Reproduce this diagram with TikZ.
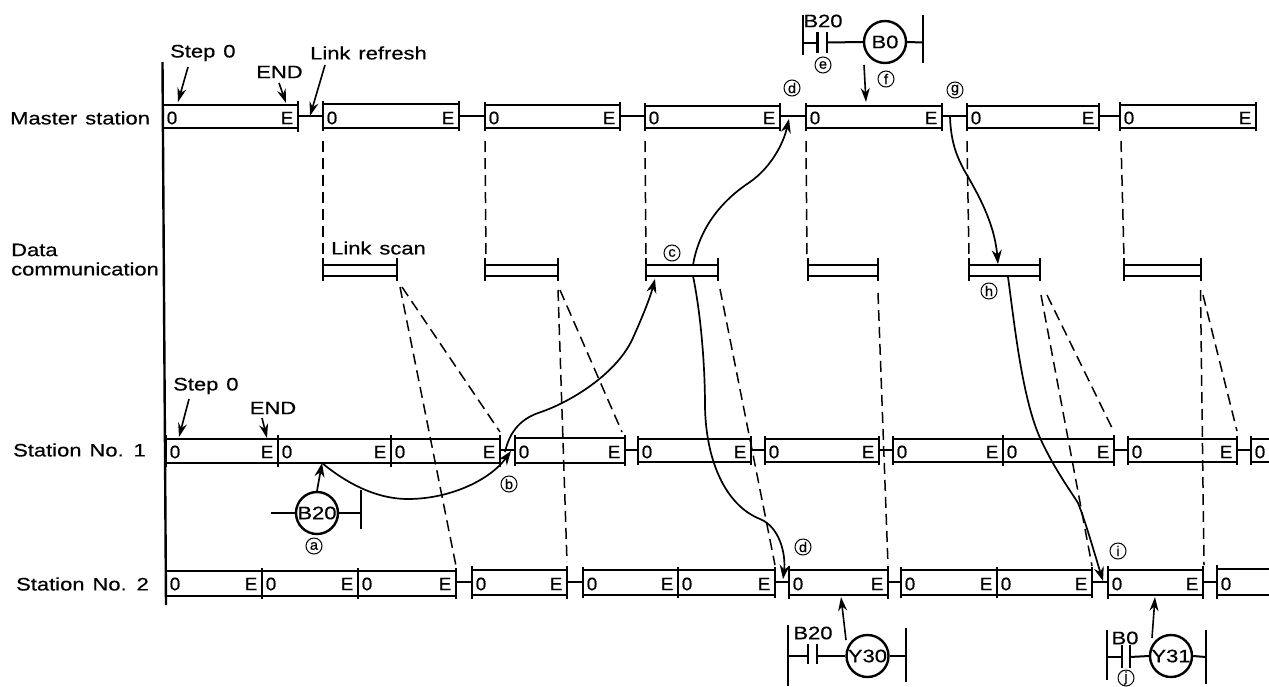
\documentclass[tikz,border=0pt]{standalone}
\usepackage{fontspec}
\setmainfont[FakeStretch=1.22,FakeBold=0.5,WordSpace=1.3]{Liberation Sans}
\newfontfamily\cellfont[FakeStretch=1.05,FakeBold=0.5]{Liberation Sans}
\usetikzlibrary{arrows.meta}
\tikzset{
  lbl/.style={inner sep=0pt,font=\fontsize{18}{20}\selectfont},
  cell/.style={inner sep=0pt,font=\cellfont\fontsize{18}{20}\selectfont},
  ltr/.style={draw,circle,line width=1pt,minimum size=16pt,inner sep=0pt,font=\cellfont\fontsize{14}{15}\selectfont},
  coil/.style={draw,circle,line width=2.4pt,minimum size=42pt,inner sep=0pt,font=\fontsize{18}{20}\selectfont},
  heavy/.style={line width=2.5pt},
  rail/.style={line width=2pt},
  linkln/.style={line width=2pt},
  dsh/.style={line width=1.5pt,dash pattern=on 11pt off 6pt},
  flow/.style={line width=1.7pt,-{Stealth[length=14pt,width=10pt]}},
  ptr/.style={line width=1.6pt,-{Stealth[length=14pt,width=9pt]}},
}
% #1 x1, #2 x2, #3 top, #4 bottom, #5 mid, #6 overhang
\newcommand\seg[6]{%
  \coordinate (s-#1-#5) at (#1,#5);
  \coordinate (e-#2-#5) at (#2,#5);
  \draw[heavy] (#1,#3) -- (#2,#3) (#1,#4) -- (#2,#4);
  \draw[heavy] (#1,#3-#6) -- (#1,#4+#6) (#2,#3-#6) -- (#2,#4+#6);
  \pgfmathsetmacro\xa{#1+9}\pgfmathsetmacro\xb{#2-11}\pgfmathsetmacro\ym{#5+2}
  \node[cell] (z-#1-#5) at (\xa,\ym) {0};
  \node[cell] (f-#2-#5) at (\xb,\ym) {E};
}
\newcommand\sego[5]{%
  \coordinate (s-#1-#4) at (#1,#4);
  \draw[heavy] (#1,#2) -- (1269,#2) (#1,#3) -- (1269,#3);
  \draw[heavy] (#1,#2-#5) -- (#1,#3+#5);
  \pgfmathsetmacro\xa{#1+9}\pgfmathsetmacro\ym{#4+2}
  \node[cell] (z-#1-#4) at (\xa,\ym) {0};
}
\newcommand\lnk[3]{\draw[linkln] (e-#1-#3) -- (s-#2-#3);}
% link scan bar
\newcommand\scanbar[2]{%
  \coordinate (ls-#1) at (#1,270);
  \draw[heavy] (#1,265) -- (#2,265) (#1,276) -- (#2,276);
  \draw[heavy] (#1,258) -- (#1,281) (#2,258) -- (#2,281);
}
\begin{document}
\begin{tikzpicture}[x=1pt,y=-1pt]
\useasboundingbox (0,0) rectangle (1269,686);
\fill[white] (0,0) rectangle (1269,686);

% axis
\coordinate (axT) at (162.5,62);
\coordinate (axB) at (166,605);
\draw[line width=2.4pt] (axT) -- (axB);

% row labels
\node[lbl,anchor=west] (rm) at (10,118) {Master station};
\node[lbl,anchor=west] (rd1) at (11,250) {Data};
\node[lbl,anchor=west] (rd2) at (11,269) {communication};
\node[lbl,anchor=west] (r1) at (13,450) {Station No. 1};
\node[lbl,anchor=west] (r2) at (16,584) {Station No. 2};

% master row
\seg{163}{298}{105}{128}{116}{4}
\seg{323}{459}{104}{128}{116}{3}
\seg{485}{620}{105}{128}{116}{3}
\seg{645}{780}{106}{128}{116}{3}
\seg{806}{942}{106}{128}{116}{3}
\seg{967}{1099}{106}{128}{116}{3}
\seg{1120}{1256}{105}{128}{116}{3}
\lnk{298}{323}{116}\lnk{459}{485}{116}\lnk{620}{645}{116}
\lnk{780}{806}{116}\lnk{942}{967}{116}\lnk{1099}{1120}{116}

% scan bars
\scanbar{323}{397}\scanbar{485}{558}\scanbar{646}{718}
\scanbar{808}{878}\scanbar{969}{1040}\scanbar{1124}{1201}

% station 1
\seg{166}{278}{439}{463}{450}{4}
\seg{278}{391}{439}{463}{450}{4}
\seg{391}{500}{439}{463}{450}{4}
\seg{515}{625}{438}{463}{450}{3}
\seg{638}{751}{439}{462}{450}{3}
\seg{765}{879}{439}{462}{450}{3}
\seg{893}{1003}{439}{462}{450}{3}
\seg{1003}{1114}{439}{462}{450}{4}
\seg{1128}{1237}{439}{462}{450}{3}
\sego{1251}{439}{462}{450}{3}
\lnk{500}{515}{450}\lnk{625}{638}{450}\lnk{751}{765}{450}
\lnk{879}{893}{450}\lnk{1114}{1128}{450}\lnk{1237}{1251}{450}

% station 2
\seg{166}{262}{571}{596}{582}{3}
\seg{262}{358}{571}{596}{582}{3}
\seg{358}{456}{571}{596}{582}{3}
\seg{472}{567}{570}{595}{582}{4}
\seg{583}{678}{570}{595}{582}{3}
\seg{678}{775}{570}{595}{582}{3}
\seg{789}{888}{570}{595}{582}{4}
\seg{901}{997}{570}{595}{582}{3}
\seg{997}{1092}{570}{595}{582}{3}
\seg{1108}{1203}{570}{595}{582}{4}
\sego{1217}{569}{595}{582}{4}
\lnk{456}{472}{582}\lnk{567}{583}{582}\lnk{775}{789}{582}
\lnk{888}{901}{582}\lnk{1092}{1108}{582}\lnk{1203}{1217}{582}

% vertical dashed lines master -> scan
\foreach \a/\b/\c in {323/323/255,485/486/258,645/646/258,806/807/258,967/969/258,1121/1124/258}{
  \draw[dsh] (\a,141) -- (\b,\c);
}
% dashed lines scan -> stations
\foreach \a/\b/\c/\d in {
 400/287/456/566, 402/287/500/432,
 558/290/567/562, 560/290/622/432,
 720/289/775/565,
 878/293/888/565,
 1041/295/1092/566, 1047/295/1114/432,
 1200.5/290/1204/565, 1203/295/1237/431}{
  \draw[dsh] (\a,\b) -- (\c,\d);
}

% annotations top-left
\node[lbl,anchor=west] (st0) at (170,53) {Step 0};
\node[lbl] (endt) at (279.5,72) {END};
\node[lbl,anchor=west] (lref) at (310,53) {Link refresh};
\coordinate (st0t) at (178,102);
\coordinate (endp) at (286,103);
\coordinate (lrp) at (310,116);
\draw[ptr] (188,67) -- (st0t);
\draw[ptr] (279,83) -- (endp);
\draw[ptr] (325,65) -- (lrp);
\node[lbl,anchor=west] (lscan) at (331,248) {Link scan};

% annotations station 1
\node[lbl,anchor=west] (st1) at (173,386) {Step 0};
\node[lbl] (end1) at (273,408) {END};
\coordinate (st1t) at (179,437);
\coordinate (en1t) at (267,438);
\draw[ptr] (189,399) -- (st1t);
\draw[ptr] (262,418) -- (en1t);

% B20 coil
\node[coil] (cB20) at (317,513) {B20};
\coordinate (cL) at (271,513);
\coordinate (cR) at (361,513);
\draw[rail] (cL) -- (cB20.west);
\draw[rail] (cB20.east) -- (cR);
\draw[rail] (361,490) -- (361,529);
\coordinate (cT) at (322,463);
\draw[flow] (cB20.north) -- (cT);
\node[ltr] (la) at (314,546) {a};
\node[ltr] (lb) at (509,484) {b};
\node[ltr] (lc) at (672,253) {c};
\node[ltr] (ld1) at (792,88) {d};
\node[ltr] (le) at (823,65) {e};
\node[ltr] (lf) at (886,79) {f};
\node[ltr] (lg) at (955,90) {g};
\node[ltr] (lh) at (989,291) {h};
\node[ltr] (ld2) at (803,547) {d};
\node[ltr] (li) at (1118,551) {i};
\node[ltr] (lj) at (1126,678) {j};

% ladder top
\node[coil] (cB0) at (885,42) {B0};
\node[lbl] (tB20) at (823,21) {B20};
\coordinate (tL) at (803,42.5);
\coordinate (tC1) at (817.5,42.5);
\coordinate (tC2) at (827,42.5);
\coordinate (tR) at (923,42.5);
\draw[rail] (803,15) -- (803,55);
\draw[rail] (923,15) -- (923,63);
\draw[heavy] (817.5,32) -- (817.5,53) (827,32) -- (827,53);
\draw[rail] (tL) -- (tC1);
\draw[rail] (tC2) -- (cB0.west);
\draw[rail] (cB0.east) -- (tR);
\coordinate (fT) at (866,102);
\draw[ptr] (864,65) -- (fT);

% ladder Y30
\node[coil] (cY30) at (867.5,656) {Y30};
\node[lbl] (l30) at (813,633) {B20};
\coordinate (aL) at (788,656);
\coordinate (aC1) at (808,656);
\coordinate (aC2) at (817,656);
\coordinate (aR) at (906,656);
\draw[rail] (788,625) -- (788,686);
\draw[rail] (906,628) -- (906,682);
\draw[heavy] (808,644) -- (808,664) (817,644) -- (817,664);
\draw[rail] (aL) -- (aC1);
\draw[rail] (aC2) -- (cY30.west);
\draw[rail] (cY30.east) -- (aR);
\coordinate (y30T) at (841,597);
\draw[ptr] (846,640) -- (y30T);

% ladder Y31
\node[coil] (cY31) at (1171,656) {Y31};
\node[lbl] (l31) at (1125,638) {B0};
\coordinate (bL) at (1107,657);
\coordinate (bC1) at (1122,657);
\coordinate (bC2) at (1130,657);
\coordinate (bR) at (1206,657);
\draw[rail] (1107,630) -- (1107,680);
\draw[rail] (1206,630) -- (1206,684);
\draw[heavy] (1122,645) -- (1122,668) (1130,645) -- (1130,668);
\draw[rail] (bL) -- (bC1);
\draw[rail] (bC2) -- (cY31.west);
\draw[rail] (cY31.east) -- (bR);
\coordinate (y31T) at (1155,597);
\draw[ptr] (1152,638) -- (y31T);

% flow curves
\coordinate (f1a) at (322,463);
\coordinate (f1b) at (511,451);
\draw[flow] (f1a) .. controls (345,482) and (375,499) .. (408,499) .. controls (450,499) and (490,480) .. (f1b);
\coordinate (f2a) at (505,452);
\coordinate (f2b) at (655,279);
\draw[flow] (f2a) .. controls (510,430) and (522,418) .. (541,412) .. controls (570,402) and (615,375) .. (632,340) .. controls (642,318) and (650,298) .. (f2b);
\coordinate (f3a) at (693,265);
\coordinate (f3b) at (789,119);
\draw[flow] (f3a) .. controls (698,235) and (715,205) .. (750,182) .. controls (770,168) and (783,145) .. (f3b);
\coordinate (f4a) at (693,276);
\coordinate (f4b) at (783,579);
\draw[flow] (f4a) .. controls (700,310) and (705,360) .. (705,407) .. controls (706,460) and (725,505) .. (760,519) .. controls (780,527) and (786,555) .. (f4b);
\coordinate (f5a) at (950,117);
\coordinate (f5b) at (998,264);
\draw[flow] (f5a) .. controls (951,145) and (958,158) .. (964,170) .. controls (985,205) and (995,230) .. (f5b);
\coordinate (f6a) at (1008,277);
\coordinate (f6b) at (1103,581);
\draw[flow] (f6a) .. controls (1014,320) and (1022,400) .. (1041,440) .. controls (1055,470) and (1070,490) .. (1078,503) .. controls (1085,520) and (1095,555) .. (f6b);
\end{tikzpicture}
\end{document}
